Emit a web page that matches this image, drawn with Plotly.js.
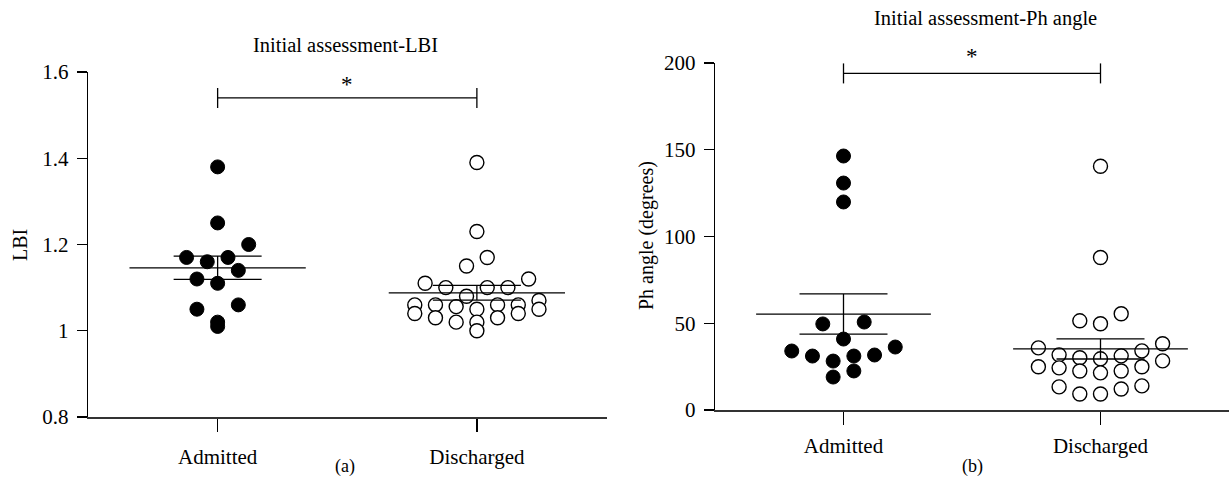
<!DOCTYPE html>
<html>
<head>
<meta charset="utf-8">
<script src="https://cdn.plot.ly/plotly-3.0.1.min.js"></script>
<style>html,body{margin:0;padding:0;background:#fff;}#chart{width:1229px;height:492px;}</style>
</head>
<body>
<div id="chart"></div>
<script>
// ---------- data ----------
const categories = ['Admitted', 'Discharged'];

const lbiAdmitted = [1.38, 1.25, 1.20, 1.17, 1.17, 1.16, 1.14, 1.12, 1.11, 1.06, 1.05, 1.02, 1.01];
const lbiDischarged = [1.39, 1.23, 1.17, 1.15, 1.12, 1.11, 1.10, 1.10, 1.10, 1.08, 1.07, 1.06, 1.06,
                       1.06, 1.06, 1.056, 1.05, 1.05, 1.04, 1.04, 1.03, 1.03, 1.02, 1.02, 1.00];
const lbiMean = [1.146, 1.088];
const lbiSem = [0.027, 0.017];
const lbiTicks = [0.8, 1, 1.2, 1.4, 1.6];
const lbiSigY = 1.54;

const phAdmitted = [146.4, 130.8, 119.9, 50.7, 49.6, 40.9, 36.3, 34.0, 31.7, 31.1, 31.1, 28.2, 22.5, 19.0];
const phDischarged = [140.5, 87.9, 55.5, 51.4, 49.7, 38.2, 35.8, 34.1, 31.8, 31.2, 30.1, 29.5, 28.3,
                      24.9, 24.9, 24.3, 22.5, 22.5, 21.4, 13.9, 13.3, 12.1, 9.2, 9.2];
const phMean = [55.3, 35.2];
const phSem = [11.6, 5.8];
const phTicks = [0, 50, 100, 150, 200];
const phSigY = 194;

// ---------- layout geometry ----------
const W = 1229, H = 492;
const FONT = 'Liberation Serif, Times New Roman, serif';
const dom = {
  x1: [88 / W, 606.5 / W], y1: [1 - 417 / H, 1 - 72 / H],
  x2: [715 / W, 1], y2: [1 - 410 / H, 1 - 63 / H]
};
const xr = [0.5, 2.5];
const ROW_PX = 18, MAX_ROW = 7, SLOT_PX = 20.7;

function pxPer(domain, range, total) {
  return (domain[1] - domain[0]) * total / (range[1] - range[0]);
}

// GraphPad-like column scatter: bin into rows, centre each row
function swarmX(values, center, pxPerY, pxPerX) {
  const order = values.map((v, i) => i).sort((a, b) => values[b] - values[a]);
  const rows = []; let cur = [];
  for (const i of order) {
    if (cur.length && ((values[cur[0]] - values[i]) * pxPerY >= ROW_PX || cur.length >= MAX_ROW)) {
      rows.push(cur); cur = [];
    }
    cur.push(i);
  }
  if (cur.length) rows.push(cur);
  const xs = new Array(values.length);
  rows.forEach(row => {
    const r = row.slice().sort((a, b) => values[a] - values[b]);
    const n = r.length;
    r.forEach((idx, k) => {
      let slot;
      if (n % 2 === 1) slot = k === 0 ? 0 : (k % 2 === 1 ? -Math.ceil(k / 2) : Math.ceil(k / 2));
      else { const m = Math.floor(k / 2) + 0.5; slot = k % 2 === 0 ? -m : m; }
      xs[idx] = center + slot * SLOT_PX / pxPerX;
    });
  });
  return xs;
}

const pxX1 = pxPer(dom.x1, xr, W), pxY1 = pxPer(dom.y1, [0.8, 1.6], H);
const pxX2 = pxPer(dom.x2, xr, W), pxY2 = pxPer(dom.y2, [0, 200], H);

const filled = {size: 14, color: '#000', line: {color: '#000', width: 1}};
const open = {size: 14, color: '#fff', line: {color: '#000', width: 1.4}};

function groupTraces(xa, ya, adm, dis, mean, sem, pxX, pxY) {
  const t = [];
  t.push({type: 'scatter', mode: 'markers', xaxis: xa, yaxis: ya, x: swarmX(adm, 1, pxY, pxX), y: adm,
          marker: filled, hoverinfo: 'y', showlegend: false});
  t.push({type: 'scatter', mode: 'markers', xaxis: xa, yaxis: ya, x: swarmX(dis, 2, pxY, pxX), y: dis,
          marker: open, hoverinfo: 'y', showlegend: false});
  const mx = [], my = [];
  [1, 2].forEach((c, i) => { mx.push(c - 0.34, c + 0.34, null); my.push(mean[i], mean[i], null); });
  t.push({type: 'scatter', mode: 'lines', xaxis: xa, yaxis: ya, x: mx, y: my,
          line: {color: '#000', width: 1.3}, hoverinfo: 'skip', showlegend: false});
  t.push({type: 'scatter', mode: 'markers', xaxis: xa, yaxis: ya, x: [1, 2], y: mean,
          marker: {size: 1, opacity: 0}, hoverinfo: 'skip', showlegend: false,
          error_y: {type: 'data', array: sem, visible: true, thickness: 1.3, width: 44, color: '#000'}});
  return t;
}

const data = [].concat(
  groupTraces('x', 'y', lbiAdmitted, lbiDischarged, lbiMean, lbiSem, pxX1, pxY1),
  groupTraces('x2', 'y2', phAdmitted, phDischarged, phMean, phSem, pxX2, pxY2)
);

function xAxis(domain, anchor, standoff) {
  return {domain: domain, anchor: anchor, range: xr, tickmode: 'array', tickvals: [1, 2], ticktext: categories,
          showline: true, linecolor: '#333', linewidth: 1.6, ticks: 'outside', ticklen: 13, tickwidth: 1.3,
          tickcolor: '#000', showgrid: false, zeroline: false, ticklabelstandoff: standoff,
          tickfont: {family: FONT, size: 21, color: '#000'}, fixedrange: true};
}
function yAxis(domain, anchor, range, ticks) {
  return {domain: domain, anchor: anchor, range: range, tickmode: 'array', tickvals: ticks,
          showline: true, linecolor: '#000', linewidth: 1.3, ticks: 'outside', ticklen: 10, tickwidth: 1.3,
          tickcolor: '#000', showgrid: false, zeroline: false, ticklabelstandoff: 4,
          tickfont: {family: FONT, size: 21, color: '#000'}, fixedrange: true};
}

function sigShapes(xref, yref, y) {
  const ln = {color: '#000', width: 1.3};
  return [
    {type: 'line', xref: xref, yref: yref, x0: 1, x1: 2, y0: y, y1: y, line: ln},
    {type: 'line', xref: xref, yref: yref, x0: 1, x1: 1, ysizemode: 'pixel', yanchor: y, y0: -10, y1: 10, line: ln},
    {type: 'line', xref: xref, yref: yref, x0: 2, x1: 2, ysizemode: 'pixel', yanchor: y, y0: -10, y1: 10, line: ln}
  ];
}

const txt = (size) => ({family: FONT, size: size, color: '#000'});

const layout = {
  width: W, height: H, margin: {l: 0, r: 0, t: 0, b: 0},
  paper_bgcolor: '#fff', plot_bgcolor: '#fff', showlegend: false,
  xaxis: xAxis(dom.x1, 'y', 7), yaxis: yAxis(dom.y1, 'x', [0.8, 1.6], lbiTicks),
  xaxis2: xAxis(dom.x2, 'y2', 3), yaxis2: yAxis(dom.y2, 'x2', [0, 200], phTicks),
  shapes: [].concat(sigShapes('x', 'y', lbiSigY), sigShapes('x2', 'y2', phSigY)),
  annotations: [
    {text: 'Initial assessment-LBI', xref: 'paper', yref: 'paper', x: 345 / W, y: 1 - 45 / H,
     xanchor: 'center', yanchor: 'middle', showarrow: false, font: txt(20.5)},
    {text: 'Initial assessment-Ph angle', xref: 'paper', yref: 'paper', x: 985 / W, y: 1 - 18 / H,
     xanchor: 'center', yanchor: 'middle', showarrow: false, font: txt(20.5)},
    {text: '*', xref: 'x', yref: 'y', x: 1.5, y: lbiSigY, yshift: -1, xanchor: 'center', yanchor: 'bottom',
     showarrow: false, font: txt(23)},
    {text: '*', xref: 'x2', yref: 'y2', x: 1.5, y: phSigY, yshift: 2, xanchor: 'center', yanchor: 'bottom',
     showarrow: false, font: txt(23)},
    {text: 'LBI', xref: 'paper', yref: 'paper', x: 20 / W, y: 1 - 245 / H, textangle: -90,
     xanchor: 'center', yanchor: 'middle', showarrow: false, font: txt(20)},
    {text: 'Ph angle (degrees)', xref: 'paper', yref: 'paper', x: 646 / W, y: 1 - 236 / H, textangle: -90,
     xanchor: 'center', yanchor: 'middle', showarrow: false, font: txt(20)},
    {text: '(a)', xref: 'paper', yref: 'paper', x: 345 / W, y: 1 - 466 / H,
     xanchor: 'center', yanchor: 'middle', showarrow: false, font: txt(18)},
    {text: '(b)', xref: 'paper', yref: 'paper', x: 972 / W, y: 1 - 466 / H,
     xanchor: 'center', yanchor: 'middle', showarrow: false, font: txt(18)}
  ]
};

Plotly.newPlot('chart', data, layout, {staticPlot: true, displayModeBar: false});
</script>
</body>
</html>
